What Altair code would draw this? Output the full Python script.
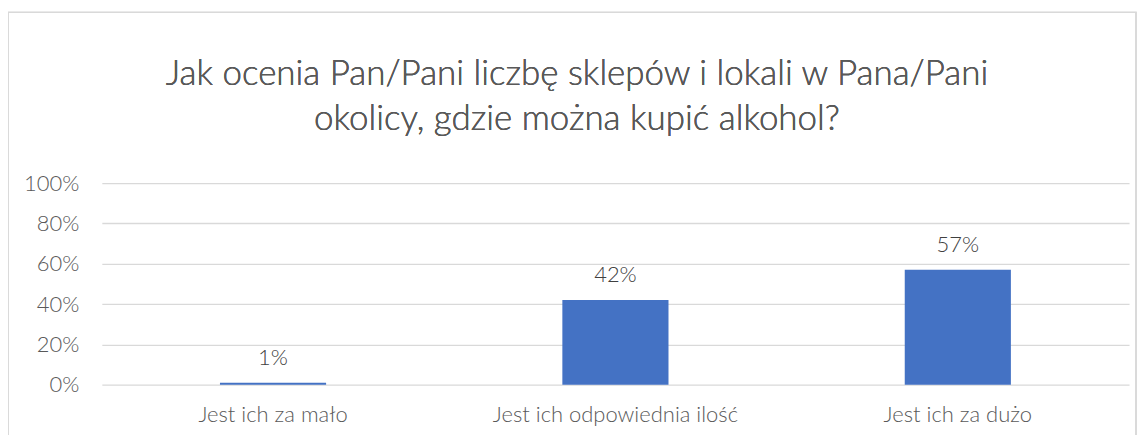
import altair as alt
import pandas as pd

categories = ["Jest ich za mało", "Jest ich odpowiednia ilość", "Jest ich za dużo"]
values = [0.01, 0.42, 0.57]
labels = ["1%", "42%", "57%"]
title_lines = ["Jak ocenia Pan/Pani liczbę sklepów i lokali w Pana/Pani",
               "okolicy, gdzie można kupić alkohol?"]

df = pd.DataFrame({"cat": categories, "val": values, "lab": labels})

FONT = "Lato"
GREY = "#595959"
FS = 22

x = alt.X("cat:N", sort=categories, title=None,
          scale=alt.Scale(paddingInner=0.69, paddingOuter=0.345),
          axis=alt.Axis(labelAngle=0, labelFontSize=FS, labelColor=GREY,
                        labelFont=FONT, labelFontWeight=300, ticks=False,
                        domain=False, labelLimit=0,
                        labelPadding=37, labelBaseline="alphabetic", grid=False))
y = alt.Y("val:Q", title=None,
          scale=alt.Scale(domain=[0, 1]),
          axis=alt.Axis(values=[0, 0.2, 0.4, 0.6, 0.8, 1.0], format=".0%",
                        labelFontSize=FS, labelColor=GREY, labelFont=FONT,
                        labelFontWeight=300,
                        ticks=False, domain=False, labelPadding=23,
                        gridColor="#D9D9D9", gridWidth=1.3))

bars = alt.Chart(df).mark_bar(color="#4472C4").encode(x=x, y=y)
text = alt.Chart(df).mark_text(baseline="alphabetic", dy=-18, fontSize=FS,
                               font=FONT, fontWeight=300, color="#404040").encode(
    x=alt.X("cat:N", sort=categories), y="val:Q", text="lab:N")

frame = alt.Chart(df).mark_rect(fill=None, stroke="#D9D9D9", strokeWidth=1.3).encode(
    x=alt.value(-94), x2=alt.value(1036), y=alt.value(-171), y2=alt.value(300))

title = alt.Chart(df).mark_text(font=FONT, fontSize=35, fontWeight=300, color=GREY,
                                baseline="alphabetic", align="center",
                                lineHeight=45).encode(
    x=alt.value(476), y=alt.value(-98), text=alt.value(title_lines))

chart = alt.layer(frame, title, bars, text).properties(
    width=1029, height=202,
    autosize=alt.AutoSizeParams(type="none"),
    padding={"left": 94, "top": 175, "right": 10, "bottom": 50},
).configure_view(stroke=None)

chart.save("out.html", embed_options={"renderer": "svg", "actions": False})
